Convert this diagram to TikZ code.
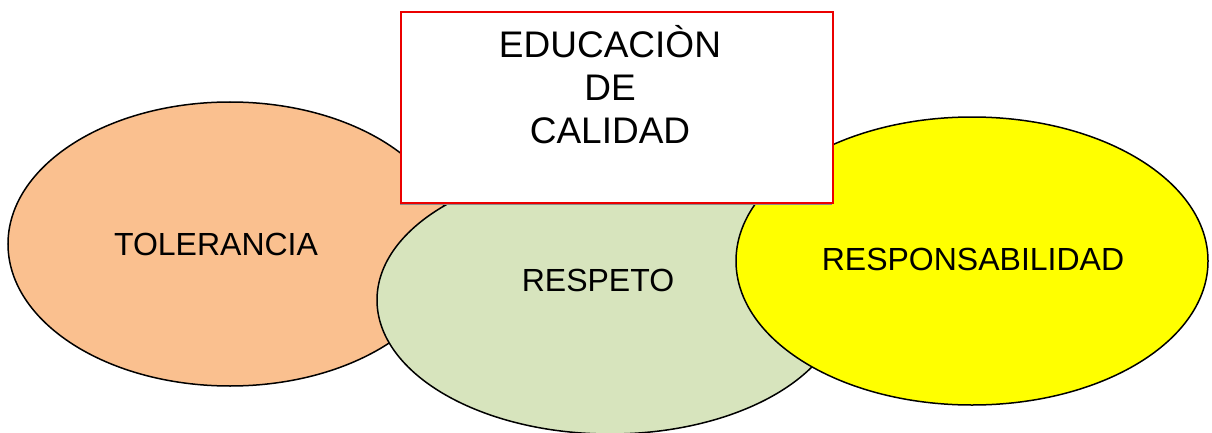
\documentclass[tikz,border=0pt]{standalone}
\usepackage{fontspec}
\setmainfont{Liberation Sans}
\usetikzlibrary{shapes.geometric}
\definecolor{orangefill}{RGB}{250,192,143}
\definecolor{greenfill}{RGB}{215,228,189}
\definecolor{yellowfill}{RGB}{255,255,0}
\definecolor{boxred}{RGB}{235,0,0}
\tikzset{
  blob/.style={ellipse, draw=black, line width=1.5pt, inner sep=0pt},
  lbl/.style={font=\fontsize{32}{38}\selectfont, inner sep=0pt, text=black},
  titlebox/.style={rectangle, draw=boxred, line width=2pt, fill=white, inner sep=0pt,
     minimum width=432pt, minimum height=191pt},
  boxshadow/.style={rectangle, fill=black!45, inner sep=0pt,
     minimum width=432pt, minimum height=191pt},
  titletext/.style={font=\fontsize{37}{43}\selectfont, align=center, inner sep=0pt, text=black}
}
\begin{document}
\begin{tikzpicture}[x=1pt,y=1pt]
\useasboundingbox (0,0) rectangle (1212,432);
% orange ellipse
\node[blob, fill=orangefill, minimum width=444pt, minimum height=284pt] (tol) at (230,188) {};
\node[lbl] (toltext) at (216,188) {TOLERANCIA};
% green ellipse
\node[blob, fill=greenfill, minimum width=466pt, minimum height=268pt] (res) at (610,132) {};
\node[lbl] (restext) at (598,152) {RESPETO};
% yellow ellipse
\node[blob, fill=yellowfill, minimum width=472pt, minimum height=288pt] (resp) at (972,171) {};
\node[lbl] (resptext) at (973,173) {RESPONSABILIDAD};
% title box
\node[boxshadow] (shadow) at (616,323) {};
\node[titlebox] (box) at (617,324.5) {};
\node[titletext] (boxtext) at (610,347) {EDUCACIÒN\\DE\\CALIDAD};
\end{tikzpicture}
\end{document}
